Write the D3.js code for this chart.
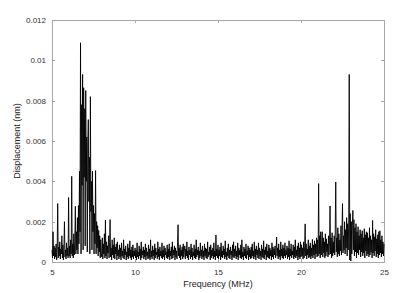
<!DOCTYPE html>
<html>
<head>
<meta charset="utf-8">
<script src="https://cdn.jsdelivr.net/npm/d3@7"></script>
<style>
  body { margin: 0; background: #fff; }
  svg { display: block; font-family: "Liberation Sans", Arial, sans-serif; }
  .axis path, .axis line { stroke: #a8a8a8; shape-rendering: crispEdges; }
  .axis text { fill: #333; font-size: 8px; }
</style>
</head>
<body>
<svg id="chart" width="400" height="293"></svg>
<script>
// spectrum samples, 5 to 25 MHz, 32 samples per MHz, values in 1e-5 nm
let freqStart = 5;
let freqStep = 1 / 32;
let dispE5 = [
    // 5-6 MHz
    60, 20, 150, 30, 80, 15, 70, 25, 90, 10, 60, 290, 20, 75, 30, 100, 15, 65, 40, 130, 20, 85, 10, 70, 200, 25, 60, 15, 95, 30, 70, 20,
    // 6-7
    320, 30, 80, 20, 110, 40, 425, 30, 90, 20, 140, 35, 100, 276, 40, 150, 60, 220, 40, 280, 90, 450, 150, 1087, 40, 780, 380, 930, 60, 864, 420, 760,
    // 7-8
    80, 850, 400, 620, 50, 580, 706, 300, 520, 40, 820, 250, 400, 60, 450, 150, 280, 40, 240, 90, 453, 40, 200, 70, 180, 30, 157, 50, 130, 20, 110, 40,
    // 8-9
    25, 120, 15, 90, 40, 140, 20, 208, 30, 100, 15, 80, 45, 130, 20, 95, 210, 25, 70, 10, 110, 35, 85, 20, 120, 15, 75, 40, 90, 10, 100, 30,
    // 9-10
    60, 15, 85, 25, 70, 10, 95, 30, 55, 20, 110, 15, 65, 35, 80, 10, 50, 25, 90, 15, 70, 30, 105, 20, 60, 10, 75, 25, 85, 15, 55, 30,
    // 10-11
    70, 20, 60, 10, 95, 25, 50, 15, 80, 30, 65, 10, 100, 20, 55, 35, 75, 15, 60, 25, 90, 10, 70, 30, 50, 15, 85, 20, 65, 10, 110, 25,
    // 11-12
    55, 15, 80, 30, 60, 10, 90, 20, 70, 35, 50, 15, 100, 25, 65, 10, 75, 30, 55, 20, 95, 15, 60, 25, 80, 10, 70, 35, 50, 20, 85, 15,
    // 12-13
    65, 25, 90, 10, 55, 30, 75, 15, 100, 20, 60, 35, 80, 10, 70, 25, 55, 15, 95, 185, 30, 70, 20, 85, 10, 60, 30, 75, 15, 90, 25, 55,
    // 13-14
    80, 15, 65, 30, 100, 20, 55, 10, 75, 35, 60, 15, 90, 25, 70, 10, 50, 30, 85, 20, 65, 15, 110, 25, 60, 35, 75, 10, 55, 20, 95, 30,
    // 14-15
    60, 15, 80, 25, 55, 10, 90, 30, 70, 20, 65, 15, 100, 25, 50, 35, 75, 10, 85, 20, 60, 30, 70, 15, 95, 25, 55, 10, 134, 30, 65, 20,
    // 15-16
    85, 15, 60, 30, 75, 10, 95, 25, 55, 20, 80, 35, 65, 15, 105, 25, 50, 10, 70, 30, 90, 20, 60, 15, 75, 35, 55, 10, 85, 25, 100, 20,
    // 16-17
    65, 30, 80, 15, 55, 25, 95, 10, 70, 35, 60, 20, 85, 15, 110, 25, 50, 10, 75, 30, 65, 20, 90, 15, 55, 35, 80, 10, 70, 25, 60, 15,
    // 17-18
    75, 20, 90, 30, 55, 15, 100, 25, 65, 10, 80, 35, 60, 20, 95, 15, 70, 30, 55, 10, 85, 25, 65, 20, 105, 15, 60, 35, 75, 10, 90, 25,
    // 18-19
    55, 20, 85, 15, 70, 30, 60, 10, 95, 25, 75, 15, 65, 35, 80, 20, 55, 124, 30, 70, 15, 90, 25, 60, 10, 100, 30, 65, 20, 85, 15, 70,
    // 19-20
    30, 95, 20, 60, 35, 80, 15, 70, 25, 105, 10, 65, 30, 90, 20, 55, 35, 85, 15, 75, 25, 110, 20, 60, 30, 80, 10, 95, 25, 70, 15, 100,
    // 20-21
    25, 85, 30, 70, 15, 100, 20, 75, 189, 30, 90, 15, 65, 35, 110, 20, 80, 25, 95, 15, 70, 30, 112, 20, 85, 35, 105, 15, 90, 40, 120, 25,
    // 21-22
    110, 30, 389, 40, 130, 20, 150, 35, 95, 150, 25, 120, 45, 100, 20, 140, 30, 115, 50, 90, 25, 130, 35, 105, 278, 40, 120, 20, 145, 30, 100, 45,
    // 22-23
    130, 35, 160, 397, 50, 120, 25, 170, 40, 140, 30, 110, 55, 180, 35, 150, 289, 45, 130, 60, 200, 40, 160, 70, 220, 30, 190, 60, 210, 930, 10, 240,
    // 23-24
    5, 200, 40, 180, 256, 60, 210, 30, 170, 50, 190, 20, 150, 45, 175, 35, 130, 60, 160, 25, 140, 50, 155, 30, 120, 45, 165, 20, 135, 55, 150, 30,
    // 24-25
    145, 40, 120, 25, 170, 35, 130, 50, 110, 20, 206, 45, 140, 30, 125, 55, 160, 25, 115, 40, 135, 20, 150, 35, 155, 45, 110, 25, 130, 40, 100, 30, 90
];
let xTicks = [5, 10, 15, 20, 25];
let yTicks = [0, 0.002, 0.004, 0.006, 0.008, 0.01, 0.012];

let margin = {left: 52, top: 20, right: 16, bottom: 31};
let svg = d3.select('#chart');
let width = 400, height = 293;

let x = d3.scaleLinear().domain([5, 25]).range([margin.left, width - margin.right]);
let y = d3.scaleLinear().domain([0, 0.012]).range([height - margin.bottom, margin.top]);

let points = dispE5.map((v, i) => [freqStart + i * freqStep, v * 1e-5]);

// frame with ticks on all four sides, pointing inward
svg.append('g').attr('class', 'axis')
    .attr('transform', `translate(0,${y(0)})`)
    .call(d3.axisBottom(x).tickValues(xTicks).tickSizeInner(-3).tickSizeOuter(0).tickPadding(7));
svg.append('g').attr('class', 'axis')
    .attr('transform', `translate(0,${y(0.012)})`)
    .call(d3.axisTop(x).tickValues(xTicks).tickSizeInner(-3).tickSizeOuter(0).tickFormat(''));
svg.append('g').attr('class', 'axis')
    .attr('transform', `translate(${x(5)},0)`)
    .call(d3.axisLeft(y).tickValues(yTicks).tickSizeInner(-3).tickSizeOuter(0).tickPadding(6)
        .tickFormat(d => d === 0 ? '0' : d3.format('')(+d.toFixed(3))));
svg.append('g').attr('class', 'axis')
    .attr('transform', `translate(${x(25)},0)`)
    .call(d3.axisRight(y).tickValues(yTicks).tickSizeInner(-3).tickSizeOuter(0).tickFormat(''));

let line = d3.line().x(d => x(d[0])).y(d => y(d[1]));
svg.append('path')
    .datum(points)
    .attr('d', line)
    .attr('fill', 'none')
    .attr('stroke', '#000')
    .attr('stroke-width', 0.9)
    .attr('stroke-linejoin', 'miter');

svg.append('text')
    .attr('x', (x(5) + x(25)) / 2)
    .attr('y', 287)
    .attr('text-anchor', 'middle')
    .attr('fill', '#222')
    .style('font-size', '9px')
    .text('Frequency (MHz)');

svg.append('text')
    .attr('transform', `translate(20,${(y(0) + y(0.012)) / 2}) rotate(-90)`)
    .attr('text-anchor', 'middle')
    .attr('fill', '#222')
    .style('font-size', '9px')
    .text('Displacement (nm)');
</script>
</body>
</html>
